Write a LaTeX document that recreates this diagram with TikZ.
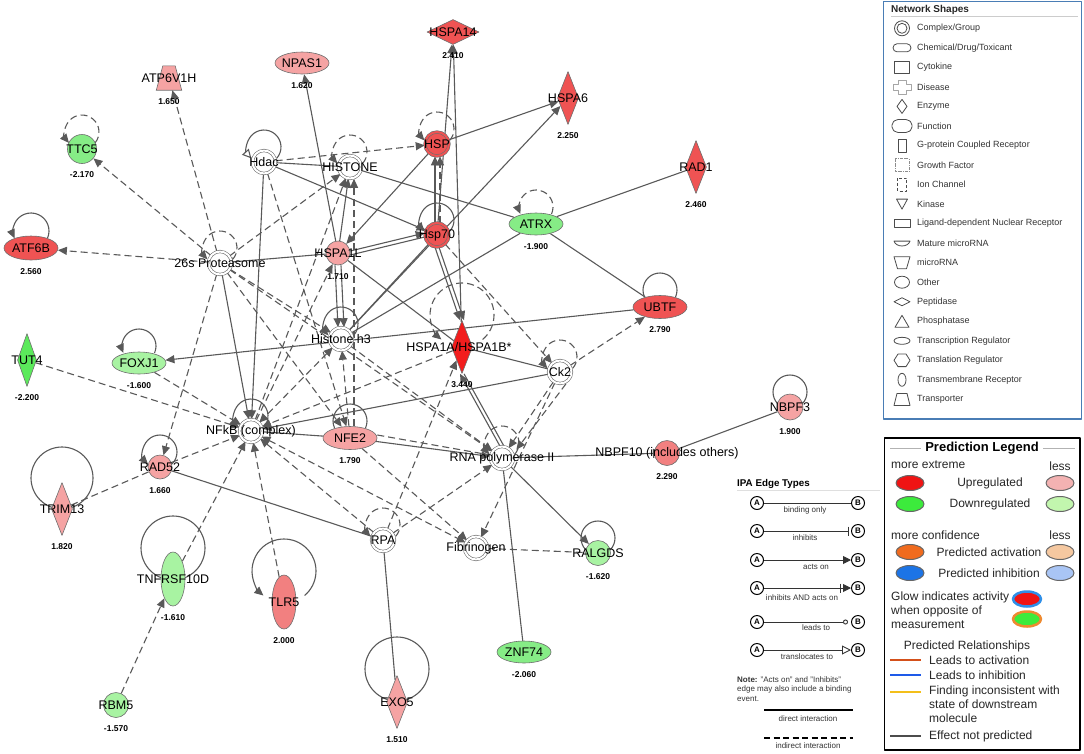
\documentclass[tikz,border=0pt]{standalone}
\usepackage{fontspec}
\setmainfont{Liberation Sans}
\usetikzlibrary{arrows.meta,shapes.geometric,backgrounds,calc}
\definecolor{edgegray}{HTML}{595959}
\definecolor{nodeline}{HTML}{6E6E6E}
\definecolor{upA}{HTML}{F21D1D}
\definecolor{upB}{HTML}{EF5353}
\definecolor{upC}{HTML}{F28080}
\definecolor{upD}{HTML}{F5A3A3}
\definecolor{dnA}{HTML}{5BEA5B}
\definecolor{dnB}{HTML}{86EC86}
\definecolor{dnC}{HTML}{A8F3A2}
\definecolor{boxblue}{HTML}{4A7DB5}
\definecolor{plred}{HTML}{F01414}
\definecolor{plpink}{HTML}{F3B2B2}
\definecolor{plgreen}{HTML}{3CEB3C}
\definecolor{pllgreen}{HTML}{C2F6AE}
\definecolor{plorange}{HTML}{F06B1E}
\definecolor{pllorange}{HTML}{F5C8A0}
\definecolor{plblue}{HTML}{1C74E6}
\definecolor{pllblue}{HTML}{A9C5F5}
\definecolor{glowblue}{HTML}{2F8FE8}
\definecolor{gloworange}{HTML}{EE8A30}
\definecolor{relorange}{HTML}{D4501A}
\definecolor{relblue}{HTML}{1E5AE8}
\definecolor{relyellow}{HTML}{F3BF1A}
\tikzset{lbl/.style={font=\fontsize{12.5}{12.5}\selectfont}}
\tikzset{val/.style={font=\bfseries\fontsize{8.5}{8.5}\selectfont, label distance=7pt, inner sep=1pt}}
\tikzset{gene/.style={draw=nodeline, line width=0.6pt, inner sep=0pt}}
\tikzset{circ/.style={gene, circle, minimum size=25}}
\tikzset{oval/.style={gene, ellipse, minimum width=54, minimum height=22}}
\tikzset{voval/.style={gene, ellipse, minimum width=24, minimum height=54}}
\tikzset{enz/.style={gene, diamond, minimum width=21, minimum height=53}}
\tikzset{pep/.style={gene, diamond, minimum width=52, minimum height=25}}
\tikzset{transbox/.style={inner sep=0pt, minimum width=25, minimum height=24}}
\tikzset{cplx/.style={circle, draw=nodeline, line width=0.6pt, double=white, double distance=2pt, fill=white, minimum size=23, inner sep=0pt}}
\tikzset{dirl/.style={draw=edgegray, line width=1.1pt}}
\tikzset{indl/.style={dirl, dash pattern=on 7pt off 4pt}}
\tikzset{icon/.style={draw=black!70, line width=0.8pt}}
\tikzset{nstxt/.style={font=\fontsize{9}{9}\selectfont, text=black!80, inner sep=0pt}}
\tikzset{pltxt/.style={font=\fontsize{12}{14}\selectfont, text=black!85, inner sep=0pt}}
\tikzset{plov/.style={ellipse, draw=black!60, line width=1pt, minimum width=28, minimum height=15, inner sep=0pt}}
\tikzset{abnode/.style={circle, draw=black, line width=1pt, minimum size=13, inner sep=0pt, font=\bfseries\fontsize{8}{8}\selectfont}}
\tikzset{ipatxt/.style={font=\fontsize{8}{9.5}\selectfont, text=black!80, inner sep=0pt}}
\tikzset{ipaline/.style={draw=black!80, line width=0.9pt}}
\newcommand{\nodeloop}[5][]{\draw[#1] ($(#2)+(0,-#3)+(#5:#4)$) arc (#5:-180-#5:#4);}

\begin{document}
\begin{tikzpicture}[x=1pt, y=-1pt, >={Triangle[length=9pt,width=8pt]}, line join=round]
\useasboundingbox (0,0) rectangle (1084,753);

% molecules
\node[oval, fill=upD, label={[lbl]center:NPAS1}, label={[val]below:1.620}] (npas) at (302,63) {};
\node[transbox, label={[lbl]center:ATP6V1H}, label={[val]below:1.650}] (atp) at (169,78) {};
\node[circ, minimum size=29, fill=dnB, label={[lbl]center:TTC5}, label={[val]below:-2.170}] (ttc) at (82,149) {};
\node[cplx, label={[lbl]center:Hdac}] (hdac) at (264,162) {};
\node[cplx, label={[lbl]center:HISTONE}] (histone) at (350,167) {};
\node[oval, minimum height=24, fill=upB, label={[lbl]center:ATF6B}, label={[val]below:2.560}] (atf) at (31,248) {};
\node[cplx, label={[lbl]center:26s Proteasome}] (prot) at (220,263) {};
\node[circ, minimum size=24, fill=upD, label={[lbl]center:HSPA1L}, label={[val]below:1.710}] (hspa1l) at (338,253) {};
\node[pep, fill=upB, label={[lbl]center:HSPA14}, label={[val]below:2.410}] (hspa14) at (453,32) {};
\node[enz, fill=upB, label={[lbl]center:HSPA6}, label={[val]below:2.250}] (hspa6) at (568,98) {};
\node[cplx, fill=upB, double=upB, minimum size=24, label={[lbl]center:HSP}] (hsp) at (437,144) {};
\node[cplx, fill=upB, double=upB, minimum size=24, label={[lbl]center:Hsp70}] (hsp70) at (437,235) {};
\node[oval, fill=dnB, label={[lbl]center:ATRX}, label={[val]below:-1.900}] (atrx) at (536,224) {};
\node[enz, fill=upB, label={[lbl]center:RAD1}, label={[val]below:2.460}] (rad1) at (696,167) {};
\node[oval, minimum height=23, fill=upB, label={[lbl]center:UBTF}, label={[val]below:2.790}] (ubtf) at (660,307) {};
\node[circ, minimum size=26, fill=upD, label={[lbl]center:NBPF3}, label={[val]below:1.900}] (nbpf3) at (790,407) {};
\node[circ, fill=upC, label={[lbl]center:NBPF10 (includes others)}, label={[val]below:2.290}] (nbpf10) at (667,453) {};
\node[cplx, label={[lbl]center:Histone h3}] (h3) at (341,339) {};
\node[enz, fill=upA, label={[lbl,xshift=-3]center:HSPA1A/HSPA1B*}, label={[val]below:3.440}] (hspa1a) at (462,347) {};
\node[cplx, label={[lbl]center:Ck2}] (ck2) at (560,372) {};
\node[cplx, label={[lbl]center:NFkB (complex)}] (nfkb) at (251,431) {};
\node[oval, minimum height=23, fill=upD, label={[lbl]center:NFE2}, label={[val]below:1.790}] (nfe2) at (350,438) {};
\node[cplx, label={[lbl]center:RNA polymerase II}] (rnapol) at (502,458) {};
\node[cplx, label={[lbl]center:RPA}] (rpa) at (383,540) {};
\node[cplx, label={[lbl]center:Fibrinogen}] (fib) at (476,548) {};
\node[circ, fill=dnC, label={[lbl]center:RALGDS}, label={[val]below:-1.620}] (ralgds) at (598,553) {};
\node[oval, fill=dnB, label={[lbl]center:ZNF74}, label={[val]below:-2.060}] (znf) at (524,652) {};
\node[enz, fill=upD, label={[lbl]center:EXO5}, label={[val]below:1.510}] (exo) at (397,702) {};
\node[circ, minimum size=24, fill=upD, label={[lbl]center:RAD52}, label={[val]below:1.660}] (rad52) at (160,467) {};
\node[enz, fill=upD, label={[lbl]center:TRIM13}, label={[val]below:1.820}] (trim) at (62,509) {};
\node[voval, fill=dnC, label={[lbl]center:TNFRSF10D}, label={[val]below:-1.610}] (tnf) at (173,579) {};
\node[voval, fill=upC, label={[lbl]center:TLR5}, label={[val]below:2.000}] (tlr) at (284,602) {};
\node[circ, fill=dnC, label={[lbl]center:RBM5}, label={[val]below:-1.570}] (rbm) at (116,705) {};
\node[enz, minimum width=19, fill=dnA, label={[lbl]center:TUT4}, label={[val]below:-2.200}] (tut) at (27,360) {};
\node[oval, fill=dnC, label={[lbl]center:FOXJ1}, label={[val]below:-1.600}] (foxj) at (139,363) {};

\begin{scope}[on background layer]
\draw[gene, fill=upD] ([xshift=6.5]atp.north west) -- ([xshift=-6.5]atp.north east) -- (atp.south east) -- (atp.south west) -- cycle;
% direct interactions
\draw[dirl,->] (hspa1l) -- (npas);
\draw[dirl,->] (hspa1a) -- (hspa14);
\draw[dirl,->] (hsp70) -- (hspa14);
\draw[dirl,->] (hsp) -- (hspa6);
\draw[dirl,->] (h3) -- (hspa6);
\draw[dirl] (hdac) -- (histone);
\draw[dirl,->] (hdac) -- (hsp70);
\draw[dirl,->] (hdac) -- (nfkb);
\draw[dirl] (histone) -- (atrx);
\draw[dirl] (atrx) -- (rad1);
\draw[dirl] (atrx) -- (ubtf);
\draw[dirl] (atrx) -- (h3);
\draw[dirl,->] ([yshift=2]hspa1l.east) -- ([yshift=2]hsp70.west);
\draw[dirl] ([yshift=-2]hspa1l.east) -- ([yshift=-2]hsp70.west);
\draw[dirl,->] (hsp) -- (hspa1l);
\draw[dirl,-{Bar[width=9pt]}] (hspa1l) -- (prot);
\draw[dirl,->] (hspa1l) -- (histone);
\draw[dirl,->] ([xshift=-3]hspa1l.south) -- ([xshift=-3]h3.north);
\draw[dirl,->] ([xshift=3]hspa1l.south) -- ([xshift=3]h3.north);
\draw[dirl] (hspa1l) -- (hspa1a);
\draw[dirl] (hspa1a) -- (ck2);
\draw[dirl,->] ([xshift=-2]hsp70.south) -- ([xshift=-2]hspa1a.north);
\draw[dirl,->] ([xshift=2]hsp70.south) -- ([xshift=2]hspa1a.north);
\draw[dirl,->] ([xshift=-2]rnapol.north) -- ([xshift=-2]hspa1a.south);
\draw[dirl] ([xshift=2]rnapol.north) -- ([xshift=2]hspa1a.south);
\draw[dirl,->] ([xshift=-2]hsp70.north) -- ([xshift=-2]hsp.south);
\draw[dirl] (hsp70) -- (h3);
\draw[dirl,->] (ubtf) -- (foxj);
\draw[dirl,->] (ck2) -- (nfkb);
\draw[dirl] (rad52) -- (rpa);
\draw[dirl] (rpa) -- (exo);
\draw[dirl] (rnapol) -- (znf);
\draw[dirl,->] (rnapol) -- (ralgds);
\draw[dirl,-{Bar[width=9pt]}] (rnapol) -- (nbpf10);
\draw[dirl] (nbpf10) -- (nbpf3);
\draw[dirl] (nfkb) -- (nfe2);
\draw[dirl,->] (nfe2) -- (rnapol);
\draw[dirl,->] (prot) -- (nfkb);
% indirect interactions
\draw[indl,->] (prot) -- (atp);
\draw[indl,->] (prot) -- (ttc);
\draw[indl,->] (prot) -- (atf);
\draw[indl,->] (prot) -- (histone);
\draw[indl,->] (prot) -- (h3);
\draw[indl,->] (prot) -- (rad52);
\draw[indl,->] (prot) -- (rnapol);
\draw[indl,->] (prot) -- (nfe2);
\draw[indl,->] (hdac) -- (hsp);
\draw[indl,->] (hdac) -- (nfe2);
\draw[indl,->] ([xshift=3]hsp70.north) -- ([xshift=3]hsp.south);
\draw[indl,->] (hsp70) -- (ck2);
\draw[indl,->] (ck2) -- (ubtf);
\draw[indl,->] (ck2) -- (rnapol);
\draw[indl,->] ([xshift=6]ck2.south) -- ([xshift=6]rnapol.north east);
\draw[indl,->] (ck2) -- (fib);
\draw[indl,->] (rpa) -- (hspa1a);
\draw[indl,->] (rpa) -- (rnapol);
\draw[indl,->] (rpa) -- (nfkb);
\draw[indl] (fib) -- (ralgds);
\draw[indl,<->] (nfkb) -- (fib);
\draw[indl,->] (nfe2) -- (fib);
\draw[indl,->] (nfe2) -- (h3);
\draw[indl,->] ([xshift=4]nfe2.north) -- ([xshift=4]histone.south);
\draw[indl] ([yshift=3]nfe2.east) -- ([yshift=3]rnapol.west);
\draw[indl,->] (h3) -- (rnapol);
\draw[indl,<->] (h3) -- (nfkb);
\draw[indl,->] (nfkb) -- (histone);
\draw[indl,->] (nfkb) -- (hspa1l);
\draw[indl,->] (hspa1a) -- (nfkb);
\draw[indl,->] (tut) -- (nfkb);
\draw[indl,->] (foxj) -- (nfkb);
\draw[indl,->] (rad52) -- (nfkb);
\draw[indl] (trim) -- (rad52);
\draw[indl,->] (tnf) -- (nfkb);
\draw[indl,->] (rbm) -- (tnf);
\draw[indl,->] (tlr) -- (nfkb);
% self loops
\nodeloop[indl,->]{ttc}{17}{17}{40}
\nodeloop[dirl,-{Triangle[open,length=9pt,width=9pt]}]{hdac}{15}{17}{42}
\nodeloop[indl,->]{histone}{15}{17}{42}
\nodeloop[dirl,->]{atf}{17}{18}{24}
\nodeloop[indl,->]{prot}{15}{17}{42}
\nodeloop[indl,->]{hsp}{15}{17}{42}
\nodeloop[dirl,->]{hsp70}{15}{17}{42}
\nodeloop[indl,->]{atrx}{17}{17}{24}
\nodeloop[dirl]{ubtf}{17}{17}{24}
\nodeloop[dirl]{nbpf3}{15}{17}{45}
\nodeloop[dirl,->]{h3}{15}{17}{42}
\nodeloop[indl,->]{ck2}{15}{17}{42}
\nodeloop[dirl,->]{nfkb}{15}{17}{42}
\nodeloop[dirl]{nfe2}{17}{17}{24}
\nodeloop[indl,->]{rnapol}{15}{17}{42}
\nodeloop[indl,->]{rpa}{15}{17}{42}
\nodeloop[dirl]{ralgds}{15}{17}{45}
\nodeloop[dirl,->]{rad52}{15}{17}{45}
\nodeloop[dirl,->]{foxj}{17}{17}{24}
\draw[indl,->] ($(hspa1a.center)+(0,-32)+(50:32)$) arc (50:-230:32);
\draw[dirl] ($(trim.center)+(0,-31)$) circle (31);
\draw[dirl] ($(tnf.center)+(0,-31)$) circle (32);
\draw[dirl,->] ($(tlr.center)+(0,-31)+(50:32)$) arc (50:-230:32);
\draw[dirl] ($(exo.center)+(0,-33)$) circle (32);
\end{scope}

% network shapes legend
\draw[draw=boxblue, line width=1.6pt] (883.5,1.5) rectangle (1081.5,419);
\node[font=\bfseries\fontsize{10}{10}\selectfont, text=black!85, anchor=west, inner sep=0pt] (nstitle) at (891,9.5) {Network Shapes};
\draw[gray!40, line width=0.8pt] (891,16.5) -- (1078,16.5);
\foreach \txt [count=\i from 0] in {Complex/Group, Chemical/Drug/Toxicant, Cytokine, Disease, Enzyme, Function, G-protein Coupled Receptor, Growth Factor, Ion Channel, Kinase, Ligand-dependent Nuclear Receptor, Mature microRNA, microRNA, Other, Peptidase, Phosphatase, Transcription Regulator, Translation Regulator, Transmembrane Receptor, Transporter}
  \node[nstxt, anchor=west] (ns\i) at (917, 28.3+19.53*\i) {\txt};
\draw[icon] (902,28.3) circle (7.5);
\draw[icon] (902,28.3) circle (5);
\draw[icon, rounded corners=4] (893,43.8) rectangle (911,51.8);
\draw[icon] (894.5,61.4) rectangle (909.5,73.4);
\draw[icon, draw=black!35] (898,79.9) -- (906,79.9) -- (906,83.9) -- (911,83.9) -- (911,89.9) -- (906,89.9) -- (906,93.9) -- (898,93.9) -- (898,89.9) -- (893,89.9) -- (893,83.9) -- (898,83.9) -- cycle;
\draw[icon] (902,99.4) -- (907,106.4) -- (902,113.4) -- (897,106.4) -- cycle;
\draw[icon, rounded corners=2] (896,119.5) -- (908,119.5) -- (912,123) -- (912,129) -- (908,132.5) -- (896,132.5) -- (892,129) -- (892,123) -- cycle;
\draw[icon] (898,139) rectangle (906,152);
\draw[icon, draw=black!45, densely dashdotted] (895,158.5) rectangle (909,171.5);
\draw[icon, densely dashed] (897.5,178) rectangle (906.5,191);
\draw[icon] (896.5,199.1) -- (907.5,199.1) -- (902,209.1) -- cycle;
\draw[icon] (894,219.6) rectangle (910,227.6);
\draw[icon] (894,241.1) .. controls (896,247.6) and (908,247.6) .. (910,241.1) -- cycle;
\draw[icon] (894,256.7) -- (910,256.7) -- (906.5,268.7) -- (897.5,268.7) -- cycle;
\draw[icon] (902,282.2) ellipse (7.5 and 6);
\draw[icon] (894,301.7) -- (902,297.7) -- (910,301.7) -- (902,305.7) -- cycle;
\draw[icon] (895,327.3) -- (909,327.3) -- (902,315.3) -- cycle;
\draw[icon] (902,340.8) ellipse (8 and 3.5);
\draw[icon] (894,360.3) -- (898,354) -- (906,354) -- (910,360.3) -- (906,366.6) -- (898,366.6) -- cycle;
\draw[icon] (902,379.8) ellipse (4 and 6.5);
\draw[icon] (897,393.4) -- (907,393.4) -- (910,405.4) -- (894,405.4) -- cycle;

% prediction legend
\draw[black, line width=1.3pt] (884.5,438) rectangle (1080,750);
\node[font=\bfseries\fontsize{13}{13}\selectfont, inner sep=0pt] (plhead) at (982,448) {Prediction Legend};
\draw[gray!60, line width=1pt] (890,448) -- (921,448);
\draw[gray!60, line width=1pt] (1043,448) -- (1075,448);
\node[pltxt, anchor=west] (plx1) at (891,465) {more extreme};
\node[pltxt] (plx2) at (1060,466) {less};
\node[plov, fill=plred] (plr1) at (910,483) {};
\node[pltxt] (plup) at (990,483) {Upregulated};
\node[plov, fill=plpink] (plr2) at (1060,483) {};
\node[plov, fill=plgreen] (plg1) at (910,504) {};
\node[pltxt] (pldn) at (990,504) {Downregulated};
\node[plov, fill=pllgreen] (plg2) at (1060,504) {};
\node[pltxt, anchor=west] (plc1) at (891,535) {more confidence};
\node[pltxt] (plc2) at (1060,535) {less};
\node[plov, fill=plorange] (plo1) at (910,552) {};
\node[pltxt] (plact) at (989,552) {Predicted activation};
\node[plov, fill=pllorange] (plo2) at (1060,552) {};
\node[plov, fill=plblue] (plb1) at (910,573) {};
\node[pltxt] (plinh) at (989,573) {Predicted inhibition};
\node[plov, fill=pllblue] (plb2) at (1060,573) {};
\node[pltxt, anchor=west, align=left] (plglow) at (891,610) {Glow indicates activity\\when opposite of\\measurement};
\node[plov, fill=plred, draw=glowblue, line width=2.5pt] (plgr) at (1027,599) {};
\node[plov, fill=plgreen, draw=gloworange, line width=2.5pt] (plgg) at (1027,619) {};
\node[pltxt] (plrel) at (967,646) {Predicted Relationships};
\draw[relorange, line width=2.6pt] (890,660) -- (921,660);
\node[pltxt, anchor=west] (plra) at (929,660) {Leads to activation};
\draw[relblue, line width=2.6pt] (890,675) -- (921,675);
\node[pltxt, anchor=west] (plri) at (929,675) {Leads to inhibition};
\draw[relyellow, line width=2.6pt] (890,692) -- (921,692);
\node[pltxt, anchor=north west, align=left] (plrf) at (929,686) {Finding inconsistent with\\state of downstream\\molecule};
\draw[black!70, line width=2.6pt] (890,736) -- (921,736);
\node[pltxt, anchor=west] (plrn) at (929,736) {Effect not predicted};

% edge types legend
\node[font=\bfseries\fontsize{9.8}{9.8}\selectfont, anchor=west, inner sep=0pt] (ipahead) at (737,484) {IPA Edge Types};
\draw[gray!25, line width=1pt] (737,490) -- (880,490);
\foreach \y/\lx/\ly/\txt [count=\i] in {503/805/510/binding only, 531/805/538/inhibits, 560/816/567/acts on, 588/802/598/inhibits AND acts on, 622/816/628/leads to, 650/807/657/translocates to} {
  \node[abnode] (ea\i) at (757,\y) {A};
  \node[abnode] (eb\i) at (858,\y) {B};
  \node[ipatxt] (et\i) at (\lx,\ly) {\txt};
}
\draw[ipaline] (ea1) -- (eb1);
\draw[ipaline,-{Bar[width=9pt]}] (ea2) -- ([xshift=-2]eb2.west);
\draw[ipaline,-{Triangle[length=8pt,width=8pt]}] (ea3) -- (eb3);
\draw[ipaline,-{Bar[width=9pt,sep=2pt]Triangle[length=8pt,width=8pt]}] (ea4) -- (eb4);
\draw[ipaline,-{Circle[open,length=5pt]}] (ea5) -- ([xshift=-3]eb5.west);
\draw[ipaline,-{Triangle[open,length=9pt,width=9pt]}] (ea6) -- (eb6);
\node[ipatxt, anchor=north west, align=left] (ipanote) at (737,676) {\textbf{Note:} "Acts on" and "Inhibits"\\edge may also include a binding\\event.};
\draw[black, line width=1.3pt] (764,710) -- (853,710);
\node[ipatxt] (ipadir) at (808,719) {direct interaction};
\draw[black, line width=1.3pt, dash pattern=on 6pt off 3.5pt] (764,738) -- (853,738);
\node[ipatxt] (ipaind) at (808,746) {indirect interaction};
\end{tikzpicture}
\end{document}
